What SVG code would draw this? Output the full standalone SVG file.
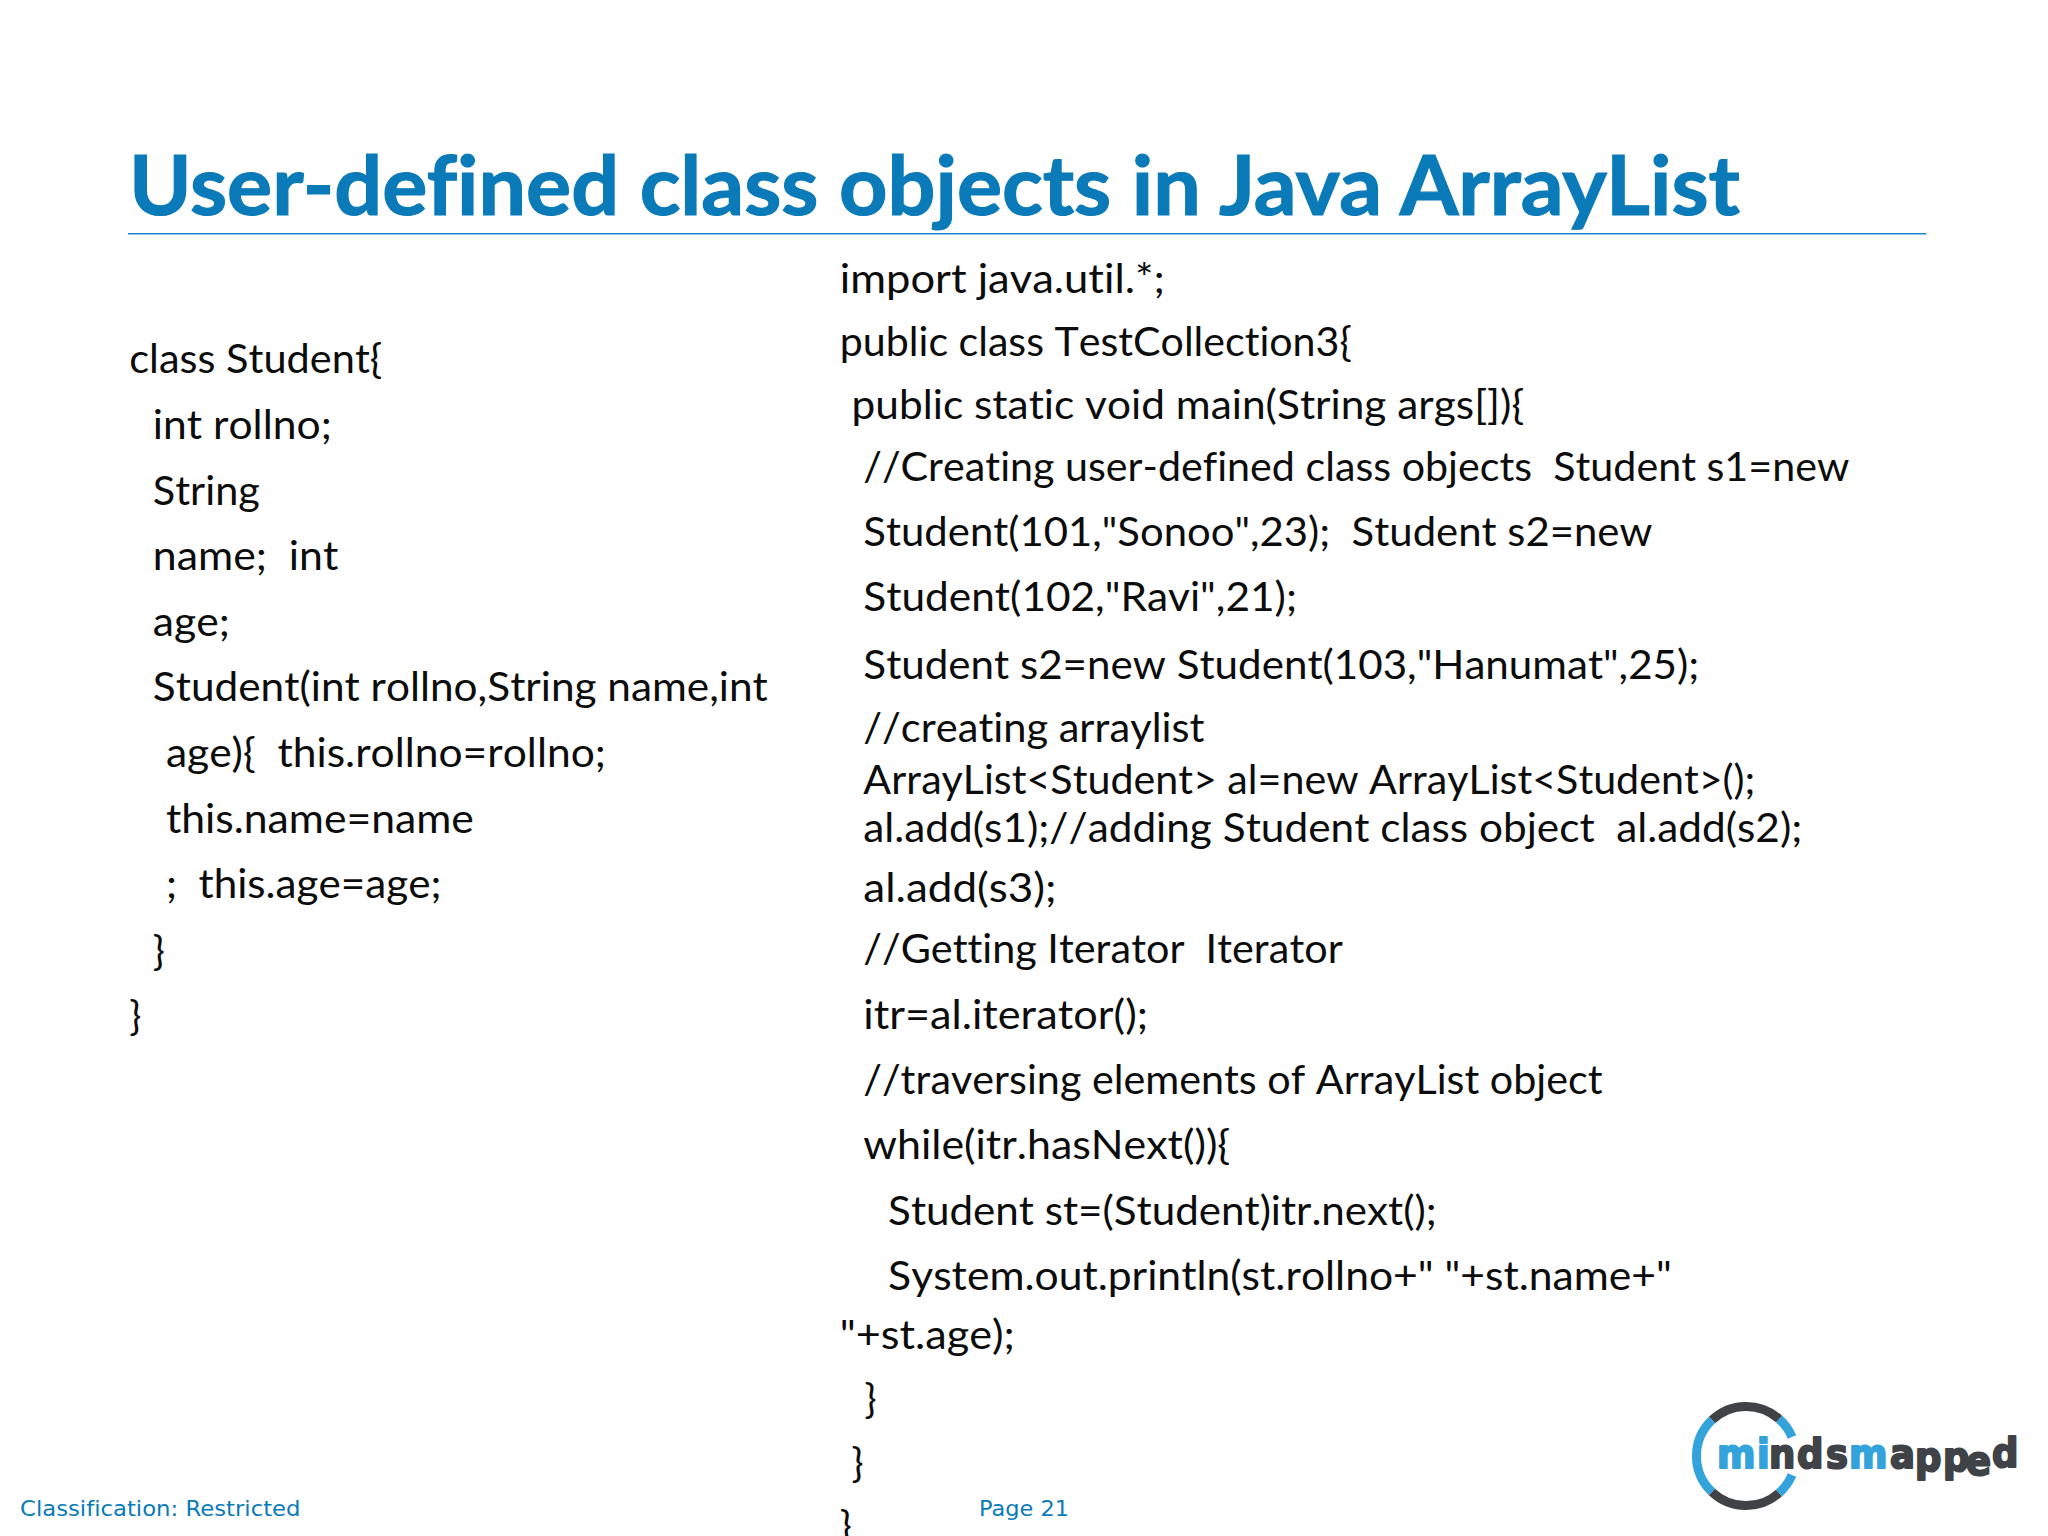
<svg xmlns="http://www.w3.org/2000/svg" width="2048" height="1536" viewBox="0 0 2048 1536">
<style>
text{white-space:pre;font-variant-ligatures:none}
.t{font-family:"Lato","Liberation Sans",sans-serif;font-weight:700;font-size:83px;fill:#0a7ab8;stroke:#0a7ab8;stroke-width:1.2}
.b{font-family:"Lato","Liberation Sans",sans-serif;font-size:40px;fill:#0c0c0c;font-kerning:none}
.f{font-family:"DejaVu Sans","Liberation Sans",sans-serif;font-size:22px;fill:#0a7ab8}
.l{font-family:"DejaVu Sans","Liberation Sans",sans-serif;font-weight:700;font-size:41px;fill:#3f4247;stroke:#3f4247;stroke-width:2.200;stroke-linejoin:round}
.bl{fill:#34a3dc;stroke:#34a3dc}
.ra{fill:none;stroke:#34a3dc;stroke-width:9}
.rd{fill:none;stroke:#3f4247;stroke-width:9}
</style>
<rect width="2048" height="1536" fill="#ffffff"/>
<text class="t" x="129" y="215" textLength="1611" lengthAdjust="spacingAndGlyphs">User-defined class objects in Java ArrayList</text>
<rect x="128" y="233" width="1798" height="1.5" fill="#1a86c8"/>
<g id="left-code">
<text class="b" x="129.3" y="373" textLength="253" lengthAdjust="spacingAndGlyphs">class Student{</text>
<text class="b" x="152.8" y="439" textLength="179" lengthAdjust="spacingAndGlyphs">int rollno;</text>
<text class="b" x="152.8" y="505" textLength="107" lengthAdjust="spacingAndGlyphs">String</text>
<text class="b" x="152.8" y="570" textLength="185.5" lengthAdjust="spacingAndGlyphs">name;  int</text>
<text class="b" x="152.8" y="636" textLength="77" lengthAdjust="spacingAndGlyphs">age;</text>
<text class="b" x="152.8" y="701" textLength="615" lengthAdjust="spacingAndGlyphs">Student(int rollno,String name,int</text>
<text class="b" x="165.9" y="767" textLength="440" lengthAdjust="spacingAndGlyphs">age){  this.rollno=rollno;</text>
<text class="b" x="165.9" y="833" textLength="308" lengthAdjust="spacingAndGlyphs">this.name=name</text>
<text class="b" x="165.9" y="898" textLength="275.6" lengthAdjust="spacingAndGlyphs">;  this.age=age;</text>
<text class="b" x="152.8" y="965">}</text>
<text class="b" x="129.3" y="1030">}</text>
</g>
<g id="right-code">
<text class="b" x="839.8" y="292.5" textLength="325" lengthAdjust="spacingAndGlyphs">import java.util.*;</text>
<text class="b" x="839.8" y="356" textLength="512" lengthAdjust="spacingAndGlyphs">public class TestCollection3{</text>
<text class="b" x="851.6" y="419" textLength="672.6" lengthAdjust="spacingAndGlyphs">public static void main(String args[]){</text>
<text class="b" x="863.3" y="480.6" textLength="986" lengthAdjust="spacingAndGlyphs">//Creating user-defined class objects  Student s1=new</text>
<text class="b" x="863.3" y="546" textLength="789" lengthAdjust="spacingAndGlyphs">Student(101,"Sonoo",23);  Student s2=new</text>
<text class="b" x="863.3" y="611" textLength="433.7" lengthAdjust="spacingAndGlyphs">Student(102,"Ravi",21);</text>
<text class="b" x="863.3" y="679" textLength="836" lengthAdjust="spacingAndGlyphs">Student s2=new Student(103,"Hanumat",25);</text>
<text class="b" x="863.3" y="742" textLength="341" lengthAdjust="spacingAndGlyphs">//creating arraylist</text>
<text class="b" x="863.3" y="794" textLength="892" lengthAdjust="spacingAndGlyphs">ArrayList&lt;Student&gt; al=new ArrayList&lt;Student&gt;();</text>
<text class="b" x="863.3" y="842" textLength="939" lengthAdjust="spacingAndGlyphs">al.add(s1);//adding Student class object  al.add(s2);</text>
<text class="b" x="863.3" y="902" textLength="193.3" lengthAdjust="spacingAndGlyphs">al.add(s3);</text>
<text class="b" x="863.3" y="963" textLength="479.4" lengthAdjust="spacingAndGlyphs">//Getting Iterator  Iterator</text>
<text class="b" x="863.3" y="1029" textLength="284.7" lengthAdjust="spacingAndGlyphs">itr=al.iterator();</text>
<text class="b" x="863.3" y="1094" textLength="739.3" lengthAdjust="spacingAndGlyphs">//traversing elements of ArrayList object</text>
<text class="b" x="863.3" y="1159" textLength="367" lengthAdjust="spacingAndGlyphs">while(itr.hasNext()){</text>
<text class="b" x="888.1" y="1225" textLength="548.6" lengthAdjust="spacingAndGlyphs">Student st=(Student)itr.next();</text>
<text class="b" x="888.1" y="1290" textLength="783.7" lengthAdjust="spacingAndGlyphs">System.out.println(st.rollno+" "+st.name+"</text>
<text class="b" x="839.8" y="1349" textLength="175" lengthAdjust="spacingAndGlyphs">"+st.age);</text>
<text class="b" x="864.6" y="1413">}</text>
<text class="b" x="851.6" y="1477">}</text>
<text class="b" x="839.8" y="1540">}</text>
</g>
<g id="footer">
<text class="f" x="20" y="1516" textLength="280.500" lengthAdjust="spacingAndGlyphs">Classification: Restricted</text>
<text class="f" x="979" y="1516" textLength="90" lengthAdjust="spacingAndGlyphs">Page 21</text>
</g>
<g id="logo">
<path class="ra" d="M1792 1437A49.500 49.500 0 0 0 1779 1419"/>
<path class="rd" d="M1779 1419A49.500 49.500 0 0 0 1712 1420"/>
<path class="ra" d="M1712 1420A49.500 49.500 0 0 0 1712 1492"/>
<path class="rd" d="M1712 1492A49.500 49.500 0 0 0 1779 1493"/>
<path class="ra" d="M1779 1493A49.500 49.500 0 0 0 1792 1475"/>
<text class="l" transform="scale(0.9 1)" x="1907.8 1952.2 1965.6 1996.7 2028.9 2054.4 2100 2127.8 2158.9 2184.4 2213.3" y="1468 1468 1468 1468 1468 1468 1468 1471 1471 1475 1467"><tspan class="bl">mi</tspan>nds<tspan class="bl">m</tspan>apped</text>
</g>
</svg>
